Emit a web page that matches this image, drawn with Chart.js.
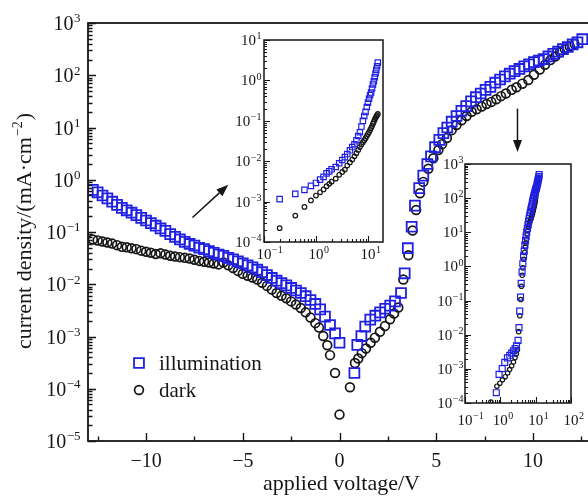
<!DOCTYPE html>
<html>
<head>
<meta charset="utf-8">
<script src="https://cdn.jsdelivr.net/npm/chart.js@4.4.1/dist/chart.umd.min.js"></script>
<style>
  html, body { margin: 0; padding: 0; background: #fff; overflow: hidden; }
  #wrap { position: relative; width: 588px; height: 500px; overflow: hidden; }
  #wrap canvas { position: absolute; }
  #main { left: 0; top: 0; }
  #revInset { left: 220px; top: 30px; }
  #fwdInset { left: 420px; top: 150px; }
</style>
</head>
<body>
<div id="wrap">
  <canvas id="main" width="600" height="500"></canvas>
  <canvas id="revInset" width="180" height="245"></canvas>
  <canvas id="fwdInset" width="168" height="290"></canvas>
</div>
<script>
// J-V sweep, voltage in V, current density in mA/cm^2
const illumV = [
  -12.75, -12.5, -12.25, -12, -11.75, -11.5, -11.25, -11, -10.75, -10.5, -10.25, -10,
  -9.75, -9.5, -9.25, -9, -8.75, -8.5, -8.25, -8, -7.75, -7.5, -7.25, -7,
  -6.75, -6.5, -6.25, -6, -5.75, -5.5, -5.25, -5, -4.75, -4.5, -4.25, -4,
  -3.75, -3.5, -3.25, -3, -2.75, -2.5, -2.25, -2, -1.75, -1.5, -1.25, -1,
  -0.75, -0.49, -0.23, 0,
  0.77, 0.92, 1.13, 1.33, 1.59, 1.85, 2.1, 2.36, 2.62, 2.87, 3.18, 3.37, 3.53,
  3.73, 3.9, 4.12, 4.33, 4.54, 4.73, 4.94, 5.16, 5.37, 5.57, 5.8, 6.05, 6.3,
  6.55, 6.8, 7.05, 7.3, 7.55, 7.8, 8.05, 8.3, 8.55, 8.8, 9.05, 9.3, 9.55, 9.8,
  10.05, 10.3, 10.55, 10.8, 11.05, 11.3, 11.55, 11.8, 12.05, 12.3, 12.55
];
const illumJ = [
  0.64, 0.575, 0.5, 0.44, 0.38, 0.33, 0.29, 0.26, 0.234, 0.21, 0.186, 0.166,
  0.148, 0.132, 0.117, 0.105, 0.091, 0.081, 0.072, 0.065, 0.059, 0.055, 0.05, 0.047,
  0.043, 0.04, 0.037, 0.035, 0.032, 0.03, 0.0275, 0.025, 0.023, 0.021, 0.019, 0.017,
  0.015, 0.0132, 0.0117, 0.0105, 0.0095, 0.0085, 0.0076, 0.0068, 0.0059, 0.005, 0.0042, 0.0033,
  0.0024, 0.00166, 0.00115, 0.00076,
  2.0e-4, 6.9e-4, 1.02e-3, 1.55e-3, 2.1e-3, 2.5e-3, 2.9e-3, 3.4e-3, 3.9e-3, 4.7e-3, 6.8e-3, 1.62e-2, 4.9e-2,
  0.126, 0.32, 0.69, 1.2, 2.0, 2.8, 4.2, 5.8, 7.8, 10, 12.9, 16.6, 20.9,
  25.7, 31.6, 38, 44.7, 52.5, 60, 72, 83, 95, 107, 120, 132, 148, 162,
  178, 191, 204, 229, 257, 282, 316, 347, 389, 427, 490
];
const darkV = [
  -12.75, -12.5, -12.25, -12, -11.75, -11.5, -11.25, -11, -10.75, -10.5, -10.25, -10,
  -9.75, -9.5, -9.25, -9, -8.75, -8.5, -8.25, -8, -7.75, -7.5, -7.25, -7,
  -6.75, -6.5, -6.25, -6, -5.75, -5.5, -5.25, -5, -4.75, -4.5, -4.25, -4,
  -3.75, -3.5, -3.25, -3, -2.75, -2.5, -2.25, -2, -1.75, -1.5, -1.25,
  -1.06, -0.84, -0.63, -0.49, -0.23, 0,
  0.54, 0.8, 0.97, 1.15, 1.37, 1.61, 1.83, 2.09, 2.35, 2.61, 2.82, 3.04, 3.3, 3.56,
  3.78, 3.96, 4.16, 4.33, 4.59, 4.85, 5.11, 5.3, 5.55, 5.8, 6.05, 6.31, 6.57, 6.83,
  7.09, 7.35, 7.6, 7.85, 8.1, 8.35, 8.6, 8.9, 9.15, 9.45, 9.76, 10.05, 10.35, 10.62,
  10.9, 11.15, 11.4, 11.65, 11.9, 12.15
];
const darkJ = [
  0.072, 0.069, 0.066, 0.063, 0.06, 0.056, 0.052, 0.051, 0.049, 0.047, 0.044, 0.042,
  0.04, 0.038, 0.039, 0.037, 0.035, 0.034, 0.033, 0.032, 0.031, 0.0295, 0.028, 0.027,
  0.026, 0.025, 0.024, 0.026, 0.023, 0.0205, 0.018, 0.0158, 0.0145, 0.0135, 0.0123, 0.0107,
  0.0093, 0.0079, 0.0068, 0.006, 0.0054, 0.0047, 0.0041, 0.0035, 0.0029, 0.0023, 0.0018,
  0.00148, 0.00102, 0.00068, 0.00044, 0.0002, 0.000032,
  1.07e-4, 3.1e-4, 3.8e-4, 4.8e-4, 5.9e-4, 7.6e-4, 9.5e-4, 1.23e-3, 1.58e-3, 2.14e-3, 2.75e-3, 3.6e-3, 1.23e-2, 3.6e-2,
  0.107, 0.263, 0.55, 0.91, 1.62, 2.57, 3.7, 4.8, 6.3, 8.9, 11.2, 13.8, 16.6, 20,
  22.4, 25.1, 28.2, 30.9, 34.7, 39.8, 44.7, 52.5, 58.9, 69, 81, 102, 129, 158,
  195, 229, 275, 316, 355, 398
];

// reverse-bias sweep on log-log axes, |V| in V
const revAbsV = [0.2, 0.4, 0.6, 0.8, 1.0, 1.2, 1.4, 1.6, 1.8, 2.0, 2.4, 2.8, 3.2, 3.6, 4.0, 4.5, 5.0, 5.5, 6.0,
  6.5, 7.0, 7.5, 8.0, 8.5, 9.0, 9.5, 10.0, 10.5, 11.0, 11.5, 12.0, 12.5, 13.0, 13.5, 14.0, 14.5, 15.0, 15.5];
const revIllumJ = [1.15e-3, 1.55e-3, 1.95e-3, 2.45e-3, 2.9e-3, 3.5e-3, 4.1e-3, 5.0e-3, 5.6e-3, 6.3e-3,
  7.2e-3, 8.9e-3, 1.07e-2, 1.26e-2, 1.5e-2, 1.86e-2, 2.24e-2, 2.63e-2, 3.3e-2, 4.2e-2,
  5.2e-2, 7.2e-2, 0.1, 0.132, 0.166, 0.219, 0.28, 0.35, 0.43, 0.5,
  0.63, 0.79, 0.95, 1.2, 1.48, 1.82, 2.24, 2.75];
const revDarkJ = [2.2e-4, 4.5e-4, 7.4e-4, 1.07e-3, 1.41e-3, 1.7e-3, 2.0e-3, 2.4e-3, 2.75e-3, 3.1e-3,
  3.7e-3, 4.6e-3, 5.4e-3, 6.2e-3, 7.8e-3, 9.3e-3, 1.1e-2, 1.32e-2, 1.58e-2, 1.9e-2,
  2.24e-2, 2.6e-2, 2.95e-2, 3.3e-2, 3.7e-2, 4.2e-2, 4.7e-2, 5.2e-2, 5.9e-2, 6.6e-2,
  7.4e-2, 8.5e-2, 9.5e-2, 0.107, 0.117, 0.129, 0.138, 0.148];

// tick labels
const mainXTicks = [-10, -5, 0, 5, 10];
const mainYExp = [-5, -4, -3, -2, -1, 0, 1, 2, 3];
const revXExp = [-1, 0, 1];
const revYExp = [-4, -3, -2, -1, 0, 1];
const fwdXExp = [-1, 0, 1, 2];
const fwdYExp = [-4, -3, -2, -1, 0, 1, 2, 3];

// arrows pointing at the insets, in data units (V, mA/cm^2)
const arrowTails = [[-7.6, 0.19], [9.2, 23]];
const arrowTips = [[-5.75, 0.8], [9.2, 3.4]];

const FONT = '"Liberation Serif", "Times New Roman", serif';
const BLUE = '#2020e4';
const INK = '#161616';

const minus = n => String(n).replace('-', '\u2212');
const pts = (xs, ys) => xs.map((x, i) => ({ x: x, y: ys[i] }));

// "10" with a raised exponent; align 'right' ends the whole label at x,
// otherwise the base is centred on x
function drawPow(ctx, base, sup, x, y, size, align) {
  const supSize = Math.round(size * 0.64);
  ctx.font = size + 'px ' + FONT;
  const wb = ctx.measureText(base).width;
  ctx.font = supSize + 'px ' + FONT;
  const ws = ctx.measureText(sup).width;
  const left = align === 'right' ? x - wb - ws : x - wb / 2;
  ctx.font = size + 'px ' + FONT;
  ctx.fillText(base, left, y);
  if (sup) {
    ctx.font = supSize + 'px ' + FONT;
    ctx.fillText(sup, left + wb + 0.5, y - size * 0.38);
  }
}

function logTicks(lo, hi) {
  const major = [], minor = [];
  for (let e = lo; e <= hi; e++) {
    major.push(10 ** e);
    for (let m = 2; m <= 9; m++) minor.push(m * 10 ** e);
  }
  return { major, minor };
}

function powLabels(exps) {
  return exps.map(e => ({ value: 10 ** e, base: '10', sup: minus(e) }));
}

// box frame, inward ticks and tick labels
const framePlugin = {
  id: 'frame',
  afterDraw(chart, args, o) {
    const { ctx, chartArea: a } = chart;
    const xs = chart.scales.x, ys = chart.scales.y;
    const inX = v => v >= xs.min && v <= xs.max;
    const inY = v => v >= ys.min && v <= ys.max;
    ctx.save();
    ctx.strokeStyle = INK;
    ctx.fillStyle = INK;
    ctx.lineWidth = o.lineWidth;
    ctx.strokeRect(a.left, a.top, a.right - a.left, a.bottom - a.top);

    ctx.lineWidth = o.tickWidth;
    ctx.beginPath();
    [[o.xMajor, o.majorLen], [o.xMinor, o.minorLen]].forEach(([vals, len]) => {
      vals.filter(inX).forEach(v => {
        const p = Math.round(xs.getPixelForValue(v)) + 0.5;
        ctx.moveTo(p, a.bottom);
        ctx.lineTo(p, a.bottom - len);
      });
    });
    [[o.yMajor, o.majorLen], [o.yMinor, o.minorLen]].forEach(([vals, len]) => {
      vals.filter(inY).forEach(v => {
        const p = Math.round(ys.getPixelForValue(v)) + 0.5;
        ctx.moveTo(a.left, p);
        ctx.lineTo(a.left + len, p);
      });
    });
    ctx.stroke();

    ctx.textAlign = 'left';
    ctx.textBaseline = 'alphabetic';
    o.xLabels.forEach(l => {
      drawPow(ctx, l.base, l.sup, xs.getPixelForValue(l.value), a.bottom + o.xLabelDrop, o.fontSize, 'center');
    });
    o.yLabels.forEach(l => {
      drawPow(ctx, l.base, l.sup, a.left - o.yLabelGap, ys.getPixelForValue(l.value) + o.yLabelDrop, o.fontSize, 'right');
    });
    ctx.restore();
  }
};

// axis titles, legend and the two arrows of the main panel
const mainDecor = {
  id: 'mainDecor',
  afterDraw(chart) {
    const { ctx, chartArea: a, scales: { x, y } } = chart;
    ctx.save();
    ctx.fillStyle = INK;
    ctx.strokeStyle = INK;
    ctx.textBaseline = 'alphabetic';

    ctx.font = '22px ' + FONT;
    ctx.textAlign = 'center';
    ctx.fillText('applied voltage/V', (a.left + a.right) / 2 + 2, a.bottom + 49);

    // rotated y title with the cm^-2 exponent
    ctx.save();
    ctx.translate(31, (a.top + a.bottom) / 2);
    ctx.rotate(-Math.PI / 2);
    ctx.textAlign = 'left';
    const head = 'current density/(mA\u00b7cm', sup = '\u22122', tail = ')';
    ctx.font = '22px ' + FONT;
    const w1 = ctx.measureText(head).width, w3 = ctx.measureText(tail).width;
    ctx.font = '14px ' + FONT;
    const w2 = ctx.measureText(sup).width;
    let cx = -(w1 + w2 + w3) / 2;
    ctx.font = '22px ' + FONT;
    ctx.fillText(head, cx, 0);
    ctx.font = '14px ' + FONT;
    ctx.fillText(sup, cx + w1 + 1, -9);
    ctx.font = '22px ' + FONT;
    ctx.fillText(tail, cx + w1 + w2 + 2, 0);
    ctx.restore();

    // legend
    ctx.textAlign = 'left';
    ctx.font = '21px ' + FONT;
    chart.data.datasets.forEach((ds, i) => {
      const lx = a.left + 51, ly = a.top + 340 + i * 27;
      ctx.save();
      ctx.strokeStyle = ds.pointBorderColor;
      ctx.fillStyle = 'rgba(0,0,0,0)';
      ctx.lineWidth = ds.pointBorderWidth;
      Chart.helpers.drawPoint(ctx, { pointStyle: ds.pointStyle, radius: ds.pointRadius, borderWidth: ds.pointBorderWidth, rotation: 0 }, lx, ly);
      ctx.restore();
      ctx.fillText(ds.label, lx + 20, ly + 7);
    });

    // arrows
    ctx.lineWidth = 1.5;
    arrowTails.forEach((t, i) => {
      const x0 = x.getPixelForValue(t[0]), y0 = y.getPixelForValue(t[1]);
      const x1 = x.getPixelForValue(arrowTips[i][0]), y1 = y.getPixelForValue(arrowTips[i][1]);
      const ang = Math.atan2(y1 - y0, x1 - x0);
      const hl = 12, hw = 4.5;
      const bx = x1 - hl * Math.cos(ang), by = y1 - hl * Math.sin(ang);
      ctx.beginPath();
      ctx.moveTo(x0, y0);
      ctx.lineTo(bx, by);
      ctx.stroke();
      ctx.beginPath();
      ctx.moveTo(x1, y1);
      ctx.lineTo(bx + hw * Math.sin(ang), by - hw * Math.cos(ang));
      ctx.lineTo(bx - hw * Math.sin(ang), by + hw * Math.cos(ang));
      ctx.closePath();
      ctx.fill();
    });
    ctx.restore();
  }
};

function series(label, data, style, radius, color, width) {
  return {
    label: label,
    data: data,
    pointStyle: style,
    pointRadius: radius,
    pointHoverRadius: radius,
    pointBorderWidth: width,
    pointBorderColor: color,
    pointBackgroundColor: 'rgba(0,0,0,0)'
  };
}

function baseOptions(box, xScale, yScale, frame) {
  return {
    responsive: false,
    animation: false,
    devicePixelRatio: 1,
    events: [],
    layout: { padding: { left: 0, top: box.top, right: box.right, bottom: 0 } },
    scales: {
      x: Object.assign({
        position: 'bottom',
        grid: { display: false },
        border: { display: false },
        ticks: { display: false },
        afterFit: s => { s.height = box.xHeight; }
      }, xScale),
      y: Object.assign({
        position: 'left',
        type: 'logarithmic',
        grid: { display: false },
        border: { display: false },
        ticks: { display: false },
        afterFit: s => { s.width = box.yWidth; }
      }, yScale)
    },
    plugins: {
      legend: { display: false },
      tooltip: { enabled: false },
      frame: frame
    }
  };
}

// main panel
const mainY = logTicks(-5, 3);
new Chart(document.getElementById('main'), {
  type: 'scatter',
  data: {
    datasets: [
      series('illumination', pts(illumV, illumJ), 'rect', 7, BLUE, 1.8),
      series('dark', pts(darkV, darkJ), 'circle', 4.4, INK, 1.7)
    ]
  },
  options: baseOptions(
    { top: 23, right: 9, xHeight: 59, yWidth: 88 },
    { type: 'linear', min: -13, max: 13 },
    { min: 1e-5, max: 1e3 },
    {
      lineWidth: 1.8, tickWidth: 1.4, majorLen: 8, minorLen: 4.5, fontSize: 20,
      xMajor: mainXTicks, xMinor: [-12.5, -7.5, -2.5, 2.5, 7.5, 12.5],
      yMajor: mainY.major, yMinor: mainY.minor,
      xLabels: mainXTicks.map(v => ({ value: v, base: minus(v), sup: '' })),
      yLabels: powLabels(mainYExp),
      xLabelDrop: 26, yLabelGap: 8, yLabelDrop: 7
    }
  ),
  plugins: [framePlugin, mainDecor]
});

// inset: reverse bias, log-log
const revX = logTicks(-1, 1), revY = logTicks(-4, 1);
new Chart(document.getElementById('revInset'), {
  type: 'scatter',
  data: {
    datasets: [
      series('illumination', pts(revAbsV, revIllumJ), 'rect', 3.8, BLUE, 1.2),
      series('dark', pts(revAbsV, revDarkJ), 'circle', 2.3, INK, 1.2)
    ]
  },
  options: baseOptions(
    { top: 10, right: 17, xHeight: 33, yWidth: 44 },
    { type: 'logarithmic', min: 0.1, max: 19.5 },
    { min: 1e-4, max: 10 },
    {
      lineWidth: 1.5, tickWidth: 1.1, majorLen: 6, minorLen: 3, fontSize: 15,
      xMajor: revX.major, xMinor: revX.minor, yMajor: revY.major, yMinor: revY.minor,
      xLabels: powLabels(revXExp), yLabels: powLabels(revYExp),
      xLabelDrop: 17, yLabelGap: 3, yLabelDrop: 5
    }
  ),
  plugins: [framePlugin]
});

// inset: forward bias, log-log
const fwdX = logTicks(-1, 2), fwdY = logTicks(-4, 3);
new Chart(document.getElementById('fwdInset'), {
  type: 'scatter',
  data: {
    datasets: [
      series('illumination', pts(illumV, illumJ).filter(p => p.x > 0), 'rect', 4.2, BLUE, 1.2),
      series('dark', pts(darkV, darkJ).filter(p => p.x > 0), 'circle', 2.2, INK, 1.2)
    ]
  },
  options: baseOptions(
    { top: 14, right: 17, xHeight: 37, yWidth: 45 },
    { type: 'logarithmic', min: 0.1, max: 100 },
    { min: 1e-4, max: 1e3 },
    {
      lineWidth: 1.5, tickWidth: 1.1, majorLen: 6, minorLen: 3, fontSize: 15,
      xMajor: fwdX.major, xMinor: fwdX.minor, yMajor: fwdY.major, yMinor: fwdY.minor,
      xLabels: powLabels(fwdXExp), yLabels: powLabels(fwdYExp),
      xLabelDrop: 22, yLabelGap: 2, yLabelDrop: 5
    }
  ),
  plugins: [framePlugin]
});
</script>
</body>
</html>
